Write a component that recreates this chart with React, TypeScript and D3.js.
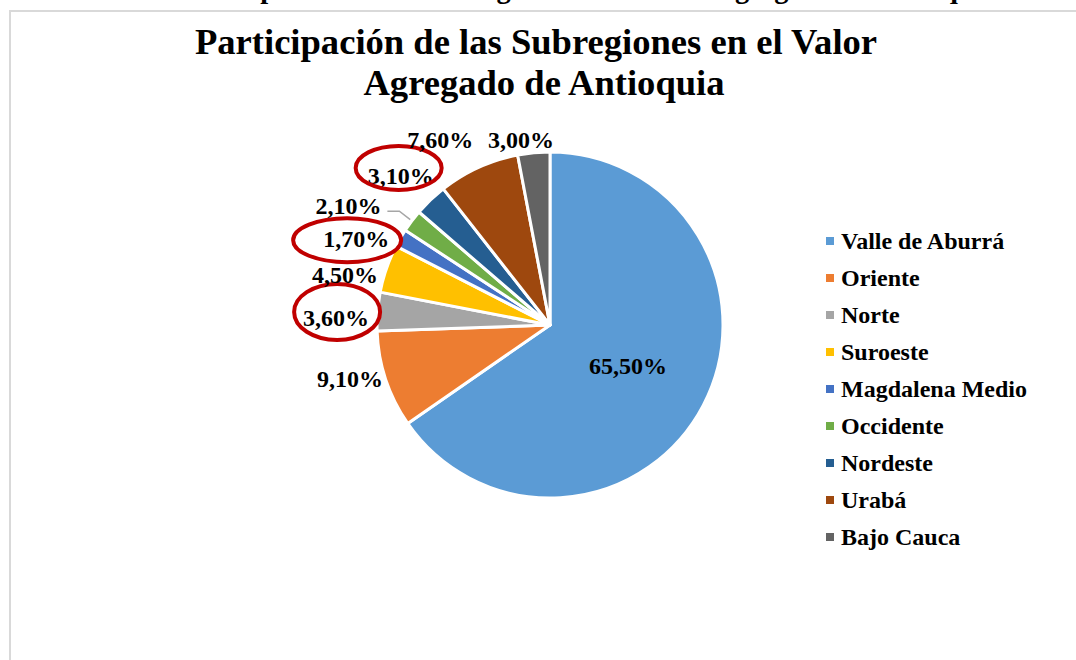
import React from "react";
import * as d3 from "d3";

const regions = [
  "Valle de Aburrá",
  "Oriente",
  "Norte",
  "Suroeste",
  "Magdalena Medio",
  "Occidente",
  "Nordeste",
  "Urabá",
  "Bajo Cauca"
];
const shares = [65.5, 9.1, 3.6, 4.5, 1.7, 2.1, 3.1, 7.6, 3.0];
const shareLabels = ["65,50%", "9,10%", "3,60%", "4,50%", "1,70%", "2,10%", "3,10%", "7,60%", "3,00%"];
const highlighted = ["Norte", "Magdalena Medio", "Nordeste"];

const colors = [
  "#5B9BD5",
  "#ED7D31",
  "#A5A5A5",
  "#FFC000",
  "#4472C4",
  "#70AD47",
  "#255E91",
  "#9E480E",
  "#636363"
];

// label placement tweaks (degrees off the slice middle, radius)
const labelShift = [0, 3.3, -2.6, -5.3, -6.3, -6.5, -1.4, -6.3, -3.5];
const labelRadius = [88, 207, 214, 211, 212, 234, 211, 215, 187];
// red rings: offset from label centre and radii
const ringLayout: Record<string, { dx: number; dy: number; rx: number; ry: number }> = {
  Norte: { dx: 1, dy: -6, rx: 43, ry: 28 },
  "Magdalena Medio": { dx: -9, dy: 1, rx: 54, ry: 22 },
  Nordeste: { dx: -2, dy: -8, rx: 43, ry: 22 }
};

const serif = "'Liberation Serif', 'Times New Roman', serif";

export default function App() {
  const width = 1076,
    height = 660;
  const cx = 550,
    cy = 325,
    r = 173;

  const data = regions.map((name, i) => ({ name, value: shares[i], label: shareLabels[i], i }));
  const pie = d3
    .pie<any>()
    .sort(null)
    .value(d => d.value);
  const arcs = pie(data);
  const arcGen = d3.arc<any>().innerRadius(0).outerRadius(r);

  const polar = (angle: number, rad: number) => [cx + rad * Math.sin(angle), cy - rad * Math.cos(angle)];

  const legendY = d3
    .scalePoint<string>()
    .domain(regions)
    .range([241, 537]);

  const labelSize = 24;

  return (
    <svg
      width={width}
      height={height}
      style={{ position: "absolute", left: 0, top: 0, background: "#fff" }}
    >
      {/* caption of the page above, mostly cut off */}
      <text
        x={178}
        y={-2}
        style={{ fontFamily: serif, fontWeight: "bold", fontSize: 28.5 }}
        fill="#000"
      >
        Participación de las Subregiones en el Valor Agregado de Antioquia
      </text>

      <path
        d={`M10,${height} L10,11 L${width},11`}
        fill="none"
        stroke="#d9d9d9"
        strokeWidth={2}
      />

      <g style={{ fontFamily: serif, fontWeight: "bold", fontSize: 36.6 }} textAnchor="middle">
        <text x={536} y={54}>
          Participación de las Subregiones en el Valor
        </text>
        <text x={544} y={95}>
          Agregado de Antioquia
        </text>
      </g>

      <g transform={`translate(${cx},${cy})`}>
        {arcs.map(a => (
          <path
            key={a.data.name}
            d={arcGen(a) as string}
            fill={colors[a.data.i]}
            stroke="#fff"
            strokeWidth={3}
            strokeLinejoin="round"
          />
        ))}
      </g>

      {arcs.map(a => {
        const i = a.data.i;
        const mid = (a.startAngle + a.endAngle) / 2;
        const ang = mid + (labelShift[i] * Math.PI) / 180;
        const [lx, ly] = polar(ang, labelRadius[i]);
        const ring = ringLayout[a.data.name];
        const isHi = highlighted.includes(a.data.name);
        let leader: any = null;
        if (a.data.name === "Occidente") {
          const [ex, ey] = polar(mid, r + 2);
          leader = (
            <polyline
              points={`${lx + 39},${ly + 5} ${lx + 51},${ly + 5} ${ex},${ey}`}
              fill="none"
              stroke="#a6a6a6"
              strokeWidth={1.5}
            />
          );
        }
        return (
          <g key={a.data.name}>
            {leader}
            <text
              x={lx}
              y={ly + labelSize * 0.34}
              textAnchor="middle"
              style={{ fontFamily: serif, fontWeight: "bold", fontSize: labelSize }}
              fill="#000"
            >
              {a.data.label}
            </text>
            {isHi && ring && (
              <ellipse
                cx={lx + ring.dx}
                cy={ly + ring.dy}
                rx={ring.rx}
                ry={ring.ry}
                fill="none"
                stroke="#C00000"
                strokeWidth={4}
              />
            )}
          </g>
        );
      })}

      <g style={{ fontFamily: serif, fontWeight: "bold", fontSize: 24 }}>
        {regions.map((name, i) => (
          <g key={name} transform={`translate(826,${legendY(name)})`}>
            <rect x={0} y={-4} width={8} height={8} fill={colors[i]} />
            <text x={15} y={8} fill="#000">
              {name}
            </text>
          </g>
        ))}
      </g>
    </svg>
  );
}
